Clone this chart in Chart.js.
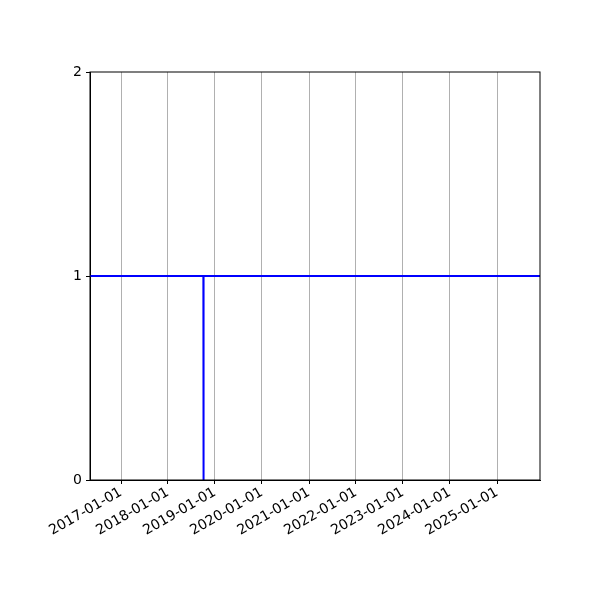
<!DOCTYPE html>
<html>
<head>
<meta charset="utf-8">
<script src="https://cdn.jsdelivr.net/npm/chart.js@4/dist/chart.umd.min.js"></script>
<style>
  html, body { margin: 0; padding: 0; background: #fff; }
  canvas { display: block; }
</style>
</head>
<body>
<canvas id="chart" width="600" height="600"></canvas>
<script>
// series: stays at 1, one drop to 0 in early Oct 2018
const dates = ["2016-05-01", "2018-10-03", "2018-10-04", "2018-10-05", "2025-12-31"];
const values = [1, 1, 0, 1, 1];

// axis
const tickLabels = ["2017-01-01", "2018-01-01", "2019-01-01", "2020-01-01", "2021-01-01",
  "2022-01-01", "2023-01-01", "2024-01-01", "2025-01-01"];
const xMin = "2016-05-05";
const xMax = "2025-12-01";
const yTicks = [0, 1, 2];

const toMs = s => Date.parse(s + "T00:00:00Z");

// black frame around the plot area
const frame = {
  id: "frame",
  afterDatasetsDraw(chart) {
    const { ctx, chartArea: a } = chart;
    ctx.save();
    ctx.strokeStyle = "#000";
    ctx.lineWidth = 1;
    ctx.strokeRect(a.left, a.top, a.right - a.left, a.bottom - a.top);
    ctx.restore();
  }
};

Chart.defaults.font.family = "'DejaVu Sans', sans-serif";
Chart.defaults.font.size = 14;
Chart.defaults.color = "#000";

new Chart(document.getElementById("chart"), {
  type: "line",
  data: {
    datasets: [{
      data: dates.map((d, i) => ({ x: toMs(d), y: values[i] })),
      borderColor: "#0000ff",
      borderWidth: 2,
      pointRadius: 0,
      tension: 0,
      fill: false
    }]
  },
  options: {
    responsive: false,
    animation: false,
    devicePixelRatio: 1,
    layout: { padding: { left: 0, top: 72, right: 60, bottom: 0 } },
    plugins: { legend: { display: false }, tooltip: { enabled: false } },
    scales: {
      x: {
        type: "linear",
        min: toMs(xMin),
        max: toMs(xMax),
        afterBuildTicks: scale => { scale.ticks = tickLabels.map(t => ({ value: toMs(t) })); },
        afterFit: scale => { scale.height = 120; },
        grid: { color: "#b0b0b0", lineWidth: 1, tickColor: "#000", tickLength: 4 },
        border: { color: "#000" },
        ticks: {
          minRotation: 30,
          maxRotation: 30,
          autoSkip: false,
          padding: 0,
          callback: v => new Date(v).toISOString().slice(0, 10)
        }
      },
      y: {
        min: 0,
        max: 2,
        afterBuildTicks: scale => { scale.ticks = yTicks.map(v => ({ value: v })); },
        afterFit: scale => { scale.width = 90; },
        grid: { drawOnChartArea: false, color: "#000", tickLength: 4 },
        border: { color: "#000" },
        ticks: { padding: 4 }
      }
    }
  },
  plugins: [frame]
});
</script>
</body>
</html>
